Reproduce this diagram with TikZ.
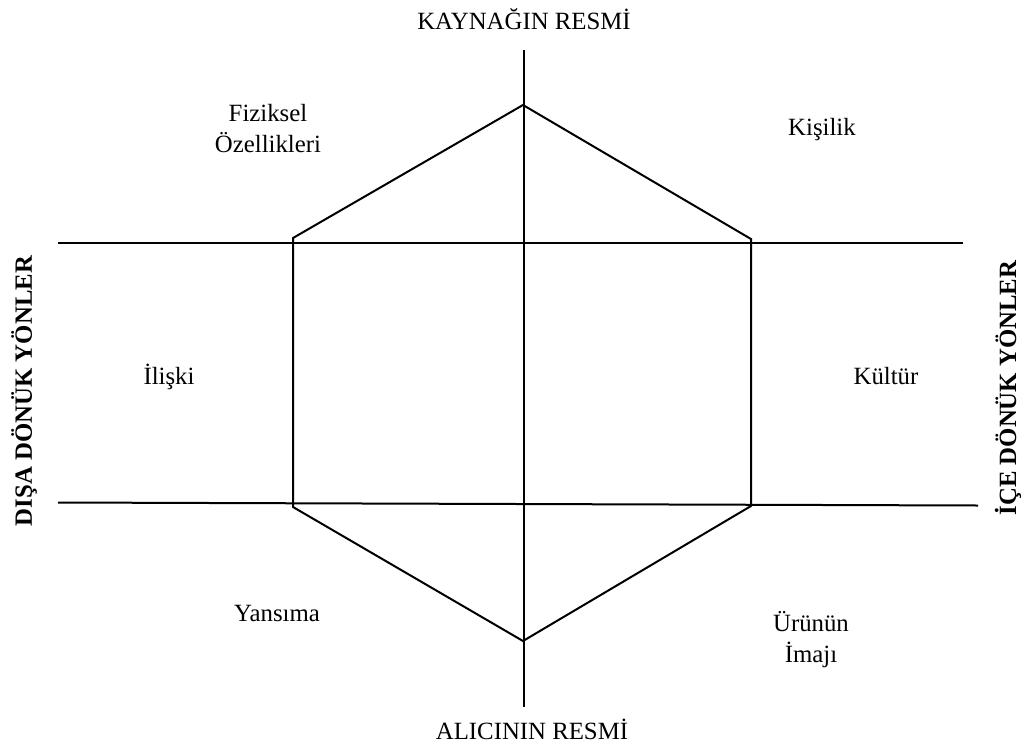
\documentclass[tikz,border=0pt]{standalone}
\usepackage{fontspec}
\setmainfont{Liberation Serif}
\begin{document}
\begin{tikzpicture}[x=0.75pt,y=-0.75pt,
  ln/.style={line width=1.5pt,line join=miter},
  lbl/.style={font=\fontsize{18.6}{20.2}\selectfont,inner sep=0pt,anchor=base,align=center},
  side/.style={font=\fontsize{18.6}{20.2}\selectfont\bfseries,inner sep=0pt,rotate=90}]
\useasboundingbox (0,0) rectangle (1022,747);
% axis ends
\coordinate (vt) at (524,50);
\coordinate (vb) at (524,707);
\coordinate (h1l) at (58,242.5);
\coordinate (h1r) at (963,242.5);
\coordinate (h2l) at (58,502.5);
\coordinate (h2r) at (978,505.5);
% hexagon
\coordinate (T) at (523,105);
\coordinate (UR) at (751,239);
\coordinate (LR) at (751,506);
\coordinate (B) at (523,641);
\coordinate (LL) at (293,507);
\coordinate (UL) at (293,238);
\draw[ln] (T) -- (UR) -- (LR) -- (B) -- (LL) -- (UL) -- cycle;
\draw[ln] (vt) -- (vb);
\draw[ln] (h1l) -- (h1r);
\draw[ln] (h2l) -- (h2r);
% labels
\node[lbl] (top) at (524,29) {KAYNAĞIN RESMİ};
\node[lbl] (bot) at (532,739) {ALICININ RESMİ};
\node[lbl] (fiz) at (268,152) {Fiziksel\\[3pt]Özellikleri};
\node[lbl] (kis) at (822,135) {Kişilik};
\node[lbl] (ili) at (169,384) {İlişki};
\node[lbl] (kul) at (886,384) {Kültür};
\node[lbl] (yan) at (277,621) {Yansıma};
\node[lbl] (uru) at (811,662) {Ürünün\\[3pt]İmajı};
\node[side] (dis) at (24,391) {DIŞA DÖNÜK YÖNLER};
\node[side] (ice) at (1008,388) {İÇE DÖNÜK YÖNLER};
\end{tikzpicture}
\end{document}
